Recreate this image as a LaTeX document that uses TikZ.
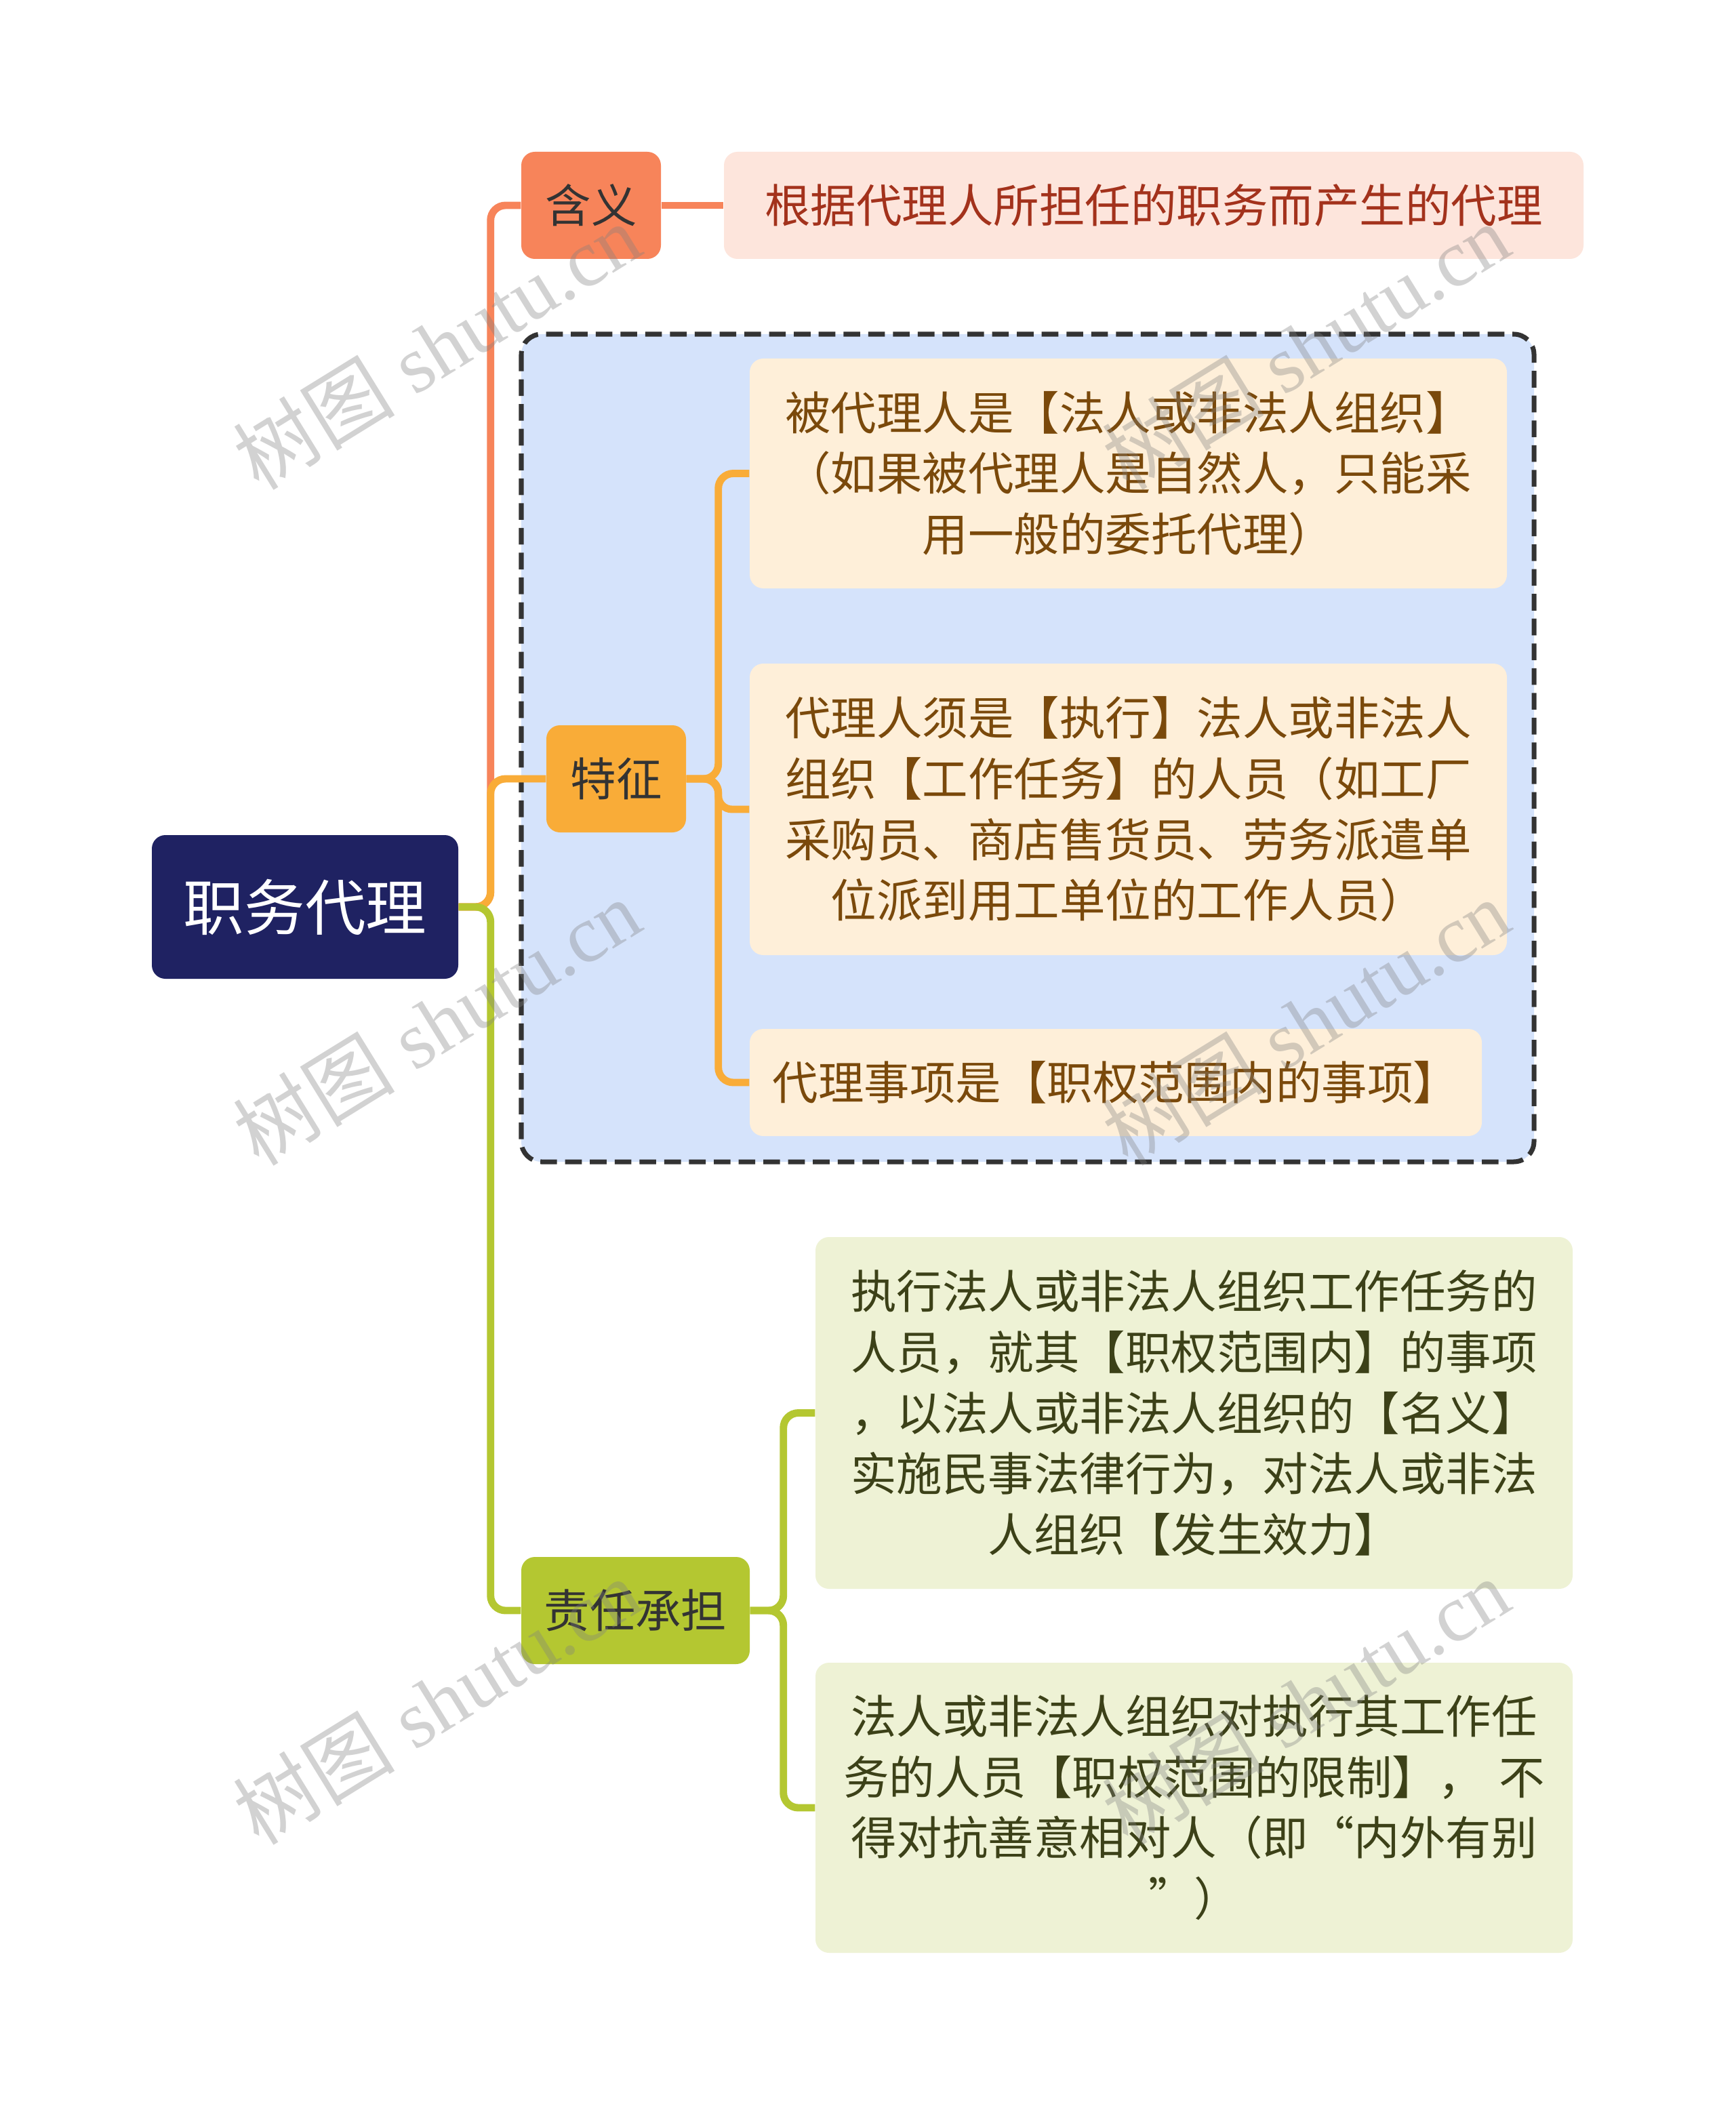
\documentclass[tikz,border=0pt]{standalone}
\usepackage{fontspec}
\setmainfont{Noto Sans CJK SC}
\newfontfamily\wmfont{Liberation Serif}

\definecolor{navy}{HTML}{1F2262}
\definecolor{coral}{HTML}{F7845A}
\definecolor{coralbg}{HTML}{FDE5DC}
\definecolor{coraltxt}{HTML}{A3321C}
\definecolor{amber}{HTML}{F9AC38}
\definecolor{amberbg}{HTML}{FEEFD9}
\definecolor{ambertxt}{HTML}{7A490B}
\definecolor{skybg}{HTML}{D5E3FB}
\definecolor{leafgreen}{HTML}{B4C731}
\definecolor{leafbg}{HTML}{EEF2D5}
\definecolor{leaftxt}{HTML}{3C4118}

\tikzset{
  box/.style={rounded corners=0.2cm, align=center, inner sep=0pt,
    font=\fontsize{19.2}{25.5}\selectfont},
  topic/.style={box, fill=#1, text=black!80, minimum height=1.58cm},
  leaf/.style={box, text width=10.8cm, minimum width=11.17cm},
  link/.style={line width=3.1pt, rounded corners=0.22cm},
  wmark/.style={rotate=31.7, text=gray, opacity=0.35,
    font=\wmfont\fontsize{34}{34}\selectfont}
}

\begin{document}
\begin{tikzpicture}
\useasboundingbox (0,0) rectangle (25.6,-31.07);
\fill[white] (0,0) rectangle (25.6,-31.07);
% the dashed frame round the features
\draw[fill=skybg, draw=black!80, line width=2pt, dash pattern=on 7pt off 3.4pt,
  rounded corners=0.3cm] (7.69,-4.93) rectangle (22.63,-17.14);

\node[box, fill=navy, text=white, minimum width=4.52cm, minimum height=2.12cm,
  font=\fontsize{25.5}{30}\selectfont] (root) at (4.50,-13.38) {职务代理};

\node[topic=coral, minimum width=2.06cm] (hanyi) at (8.72,-3.03) {含义};
\node[box, fill=coralbg, text=coraltxt, text width=12cm, minimum width=12.68cm,
  minimum height=1.58cm] (meaning) at (17.02,-3.03) {根据代理人所担任的职务而产生的代理};

\node[topic=amber, minimum width=2.06cm] (tezheng) at (9.09,-11.49) {特征};
\node[leaf, fill=amberbg, text=ambertxt, minimum height=3.39cm] (feat1) at (16.645,-6.985)
  {被代理人是【法人或非法人组织】\\（如果被代理人是自然人，只能采\\用一般的委托代理）};
\node[leaf, fill=amberbg, text=ambertxt, minimum height=4.30cm] (feat2) at (16.645,-11.94)
  {代理人须是【执行】法人或非法人\\组织【工作任务】的人员（如工厂\\采购员、商店售货员、劳务派遣单\\位派到用工单位的工作人员）};
\node[leaf, fill=amberbg, text=ambertxt, text width=10.5cm, minimum width=10.8cm,
  minimum height=1.58cm] (feat3) at (16.46,-15.97) {代理事项是【职权范围内的事项】};

\node[topic=leafgreen, minimum width=3.37cm] (zeren) at (9.375,-23.76) {责任承担};
\node[leaf, fill=leafbg, text=leaftxt, minimum height=5.19cm] (duty1) at (17.615,-20.845)
  {执行法人或非法人组织工作任务的\\人员，就其【职权范围内】的事项\\，以法人或非法人组织的【名义】\\实施民事法律行为，对法人或非法\\人组织【发生效力】};
\node[leaf, fill=leafbg, text=leaftxt, minimum height=4.28cm] (duty2) at (17.615,-26.67)
  {法人或非法人组织对执行其工作任\\务的人员【职权范围的限制】， 不\\得对抗善意相对人（即“内外有别\\”）};

% branches
\draw[link, coral] (root.east) -- ++(0.47,0) |- (hanyi.west);
\draw[link, coral] (hanyi.east) -- (meaning.west);
\draw[link, amber] (root.east) -- ++(0.47,0) |- (tezheng.west);
\draw[link, leafgreen] (root.east) -- ++(0.47,0) |- (zeren.west);

\draw[link, amber] (tezheng.east) -- ++(0.47,0) |- (feat1.west);
\draw[link, amber, rounded corners=0.2cm] (tezheng.east) -- ++(0.47,0) |- (feat2.west);
\draw[link, amber] (tezheng.east) -- ++(0.47,0) |- (feat3.west);

\draw[link, leafgreen] (zeren.east) -- ++(0.49,0) |- (duty1.west);
\draw[link, leafgreen] (zeren.east) -- ++(0.49,0) |- (duty2.west);

% watermarks
\foreach \wx in {6.44,19.26}
  \foreach \wy in {-5.11,-15.08,-25.1}
    \node[wmark] at (\wx,\wy) {{\fontspec{Noto Sans CJK SC}树图} shutu.cn};
\end{tikzpicture}
\end{document}
